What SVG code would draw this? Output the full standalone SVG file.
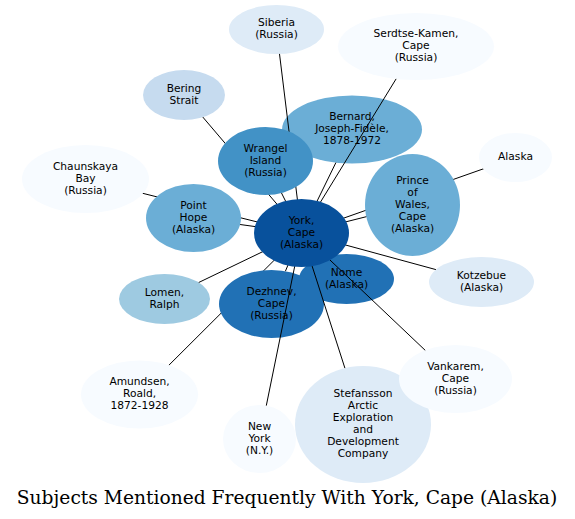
<svg xmlns="http://www.w3.org/2000/svg" width="575" height="519" viewBox="0 0 575 519">
<style>
  .node text { font-family: "DejaVu Sans", "Liberation Sans", sans-serif; font-size: 10.67px; fill: #000; text-anchor: middle; }
  .edges line { stroke: #000; stroke-width: 1; fill: none; }
  .c1 { fill: #08519c; } .c2 { fill: #2171b5; } .c3 { fill: #4292c6; } .c4 { fill: #6baed6; }
  .c5 { fill: #9ecae1; } .c6 { fill: #c6dbef; } .c7 { fill: #deebf7; } .c8 { fill: #f7fbff; }
  .title { font-family: "DejaVu Serif", "Liberation Serif", serif; font-size: 18.67px; fill: #000; text-anchor: middle; }
</style>
<rect width="575" height="519" fill="#fff"/>

<g id="node-bernard" class="node">
  <ellipse class="c4" cx="352" cy="129.5" rx="70" ry="34"/>
  <text x="352" y="120"><tspan x="352">Bernard,</tspan><tspan x="352" dy="12">Joseph-Fidèle,</tspan><tspan x="352" dy="12">1878-1972</tspan></text>
</g>

<g id="edges-under" class="edges">
  <line x1="301.5" y1="233" x2="276.5" y2="29.5"/>
  <line x1="301.5" y1="233" x2="184" y2="95"/>
  <line x1="301.5" y1="233" x2="85.5" y2="179"/>
  <line x1="301.5" y1="233" x2="515.5" y2="157.5"/>
  <line x1="301.5" y1="233" x2="139.5" y2="394.5"/>
  <line x1="301.5" y1="233" x2="346.5" y2="279"/>
</g>

<g id="node-siberia" class="node">
  <ellipse class="c7" cx="276.5" cy="29.5" rx="47.5" ry="24.5"/>
  <text x="276.5" y="26"><tspan x="276.5">Siberia</tspan><tspan x="276.5" dy="12">(Russia)</tspan></text>
</g>
<g id="node-serdtse" class="node">
  <ellipse class="c8" cx="416" cy="46.5" rx="78" ry="33.5"/>
  <text x="416" y="37"><tspan x="416">Serdtse-Kamen,</tspan><tspan x="416" dy="12">Cape</tspan><tspan x="416" dy="12">(Russia)</tspan></text>
</g>
<g id="node-bering" class="node">
  <ellipse class="c6" cx="184" cy="95" rx="41" ry="25"/>
  <text x="184" y="91.5"><tspan x="184">Bering</tspan><tspan x="184" dy="12">Strait</tspan></text>
</g>
<g id="node-wrangel" class="node">
  <ellipse class="c3" cx="265.5" cy="161" rx="47.5" ry="34"/>
  <text x="265.5" y="151.5"><tspan x="265.5">Wrangel</tspan><tspan x="265.5" dy="12">Island</tspan><tspan x="265.5" dy="12">(Russia)</tspan></text>
</g>
<g id="node-alaska" class="node">
  <ellipse class="c8" cx="515.5" cy="157.5" rx="36.5" ry="24.5"/>
  <text x="515.5" y="160">Alaska</text>
</g>
<g id="node-chaunskaya" class="node">
  <ellipse class="c8" cx="85.5" cy="179" rx="63.5" ry="34"/>
  <text x="85.5" y="169.5"><tspan x="85.5">Chaunskaya</tspan><tspan x="85.5" dy="12">Bay</tspan><tspan x="85.5" dy="12">(Russia)</tspan></text>
</g>
<g id="node-point-hope" class="node">
  <ellipse class="c4" cx="193.5" cy="218" rx="47.5" ry="34"/>
  <text x="193.5" y="208.5"><tspan x="193.5">Point</tspan><tspan x="193.5" dy="12">Hope</tspan><tspan x="193.5" dy="12">(Alaska)</tspan></text>
</g>
<g id="node-prince-of-wales" class="node">
  <ellipse class="c4" cx="412.5" cy="205" rx="47.5" ry="51"/>
  <text x="412.5" y="183.5"><tspan x="412.5">Prince</tspan><tspan x="412.5" dy="12">of</tspan><tspan x="412.5" dy="12">Wales,</tspan><tspan x="412.5" dy="12">Cape</tspan><tspan x="412.5" dy="12">(Alaska)</tspan></text>
</g>
<g id="node-kotzebue" class="node">
  <ellipse class="c7" cx="481.5" cy="282" rx="52.5" ry="25"/>
  <text x="481.5" y="278.5"><tspan x="481.5">Kotzebue</tspan><tspan x="481.5" dy="12">(Alaska)</tspan></text>
</g>
<g id="node-nome" class="node">
  <ellipse class="c2" cx="346.5" cy="279" rx="47.5" ry="25"/>
  <text x="346.5" y="275.5"><tspan x="346.5">Nome</tspan><tspan x="346.5" dy="12">(Alaska)</tspan></text>
</g>
<g id="node-lomen" class="node">
  <ellipse class="c5" cx="164.5" cy="299" rx="45.5" ry="25"/>
  <text x="164.5" y="295.5"><tspan x="164.5">Lomen,</tspan><tspan x="164.5" dy="12">Ralph</tspan></text>
</g>
<g id="node-dezhnev" class="node">
  <ellipse class="c2" cx="271.5" cy="304" rx="52.5" ry="34"/>
  <text x="271.5" y="294.5"><tspan x="271.5">Dezhnev,</tspan><tspan x="271.5" dy="12">Cape</tspan><tspan x="271.5" dy="12">(Russia)</tspan></text>
</g>
<g id="node-amundsen" class="node">
  <ellipse class="c8" cx="139.5" cy="394.5" rx="58.5" ry="34"/>
  <text x="139.5" y="385"><tspan x="139.5">Amundsen,</tspan><tspan x="139.5" dy="12">Roald,</tspan><tspan x="139.5" dy="12">1872-1928</tspan></text>
</g>
<g id="node-new-york" class="node">
  <ellipse class="c8" cx="259.5" cy="439" rx="36.5" ry="34"/>
  <text x="259.5" y="429.5"><tspan x="259.5">New</tspan><tspan x="259.5" dy="12">York</tspan><tspan x="259.5" dy="12">(N.Y.)</tspan></text>
</g>
<g id="node-stefansson" class="node">
  <ellipse class="c7" cx="363" cy="424.5" rx="68" ry="58.5"/>
  <text x="363" y="397"><tspan x="363">Stefansson</tspan><tspan x="363" dy="12">Arctic</tspan><tspan x="363" dy="12">Exploration</tspan><tspan x="363" dy="12">and</tspan><tspan x="363" dy="12">Development</tspan><tspan x="363" dy="12">Company</tspan></text>
</g>
<g id="node-vankarem" class="node">
  <ellipse class="c8" cx="455.5" cy="379" rx="56.5" ry="34"/>
  <text x="455.5" y="369.5"><tspan x="455.5">Vankarem,</tspan><tspan x="455.5" dy="12">Cape</tspan><tspan x="455.5" dy="12">(Russia)</tspan></text>
</g>

<g id="edges-over" class="edges">
  <line x1="301.5" y1="233" x2="396.1" y2="78.9"/>
  <line x1="301.5" y1="233" x2="335.9" y2="162.6"/>
  <line x1="301.5" y1="233" x2="281.5" y2="193"/>
  <line x1="301.5" y1="233" x2="240.1" y2="224.5"/>
  <line x1="301.5" y1="233" x2="366.3" y2="216.7"/>
  <line x1="301.5" y1="233" x2="435.9" y2="269.6"/>
  <line x1="301.5" y1="233" x2="425.2" y2="350.3"/>
  <line x1="301.5" y1="233" x2="344.9" y2="368.1"/>
  <line x1="301.5" y1="233" x2="266.3" y2="405.6"/>
  <line x1="301.5" y1="233" x2="285.4" y2="271.2"/>
  <line x1="301.5" y1="233" x2="198.7" y2="282.5"/>
</g>

<g id="node-york" class="node">
  <ellipse class="c1" cx="301.5" cy="233" rx="47.5" ry="34"/>
  <text x="301.5" y="223.5"><tspan x="301.5">York,</tspan><tspan x="301.5" dy="12">Cape</tspan><tspan x="301.5" dy="12">(Alaska)</tspan></text>
</g>

<text class="title" x="287" y="504">Subjects Mentioned Frequently With York, Cape (Alaska)</text>
</svg>
